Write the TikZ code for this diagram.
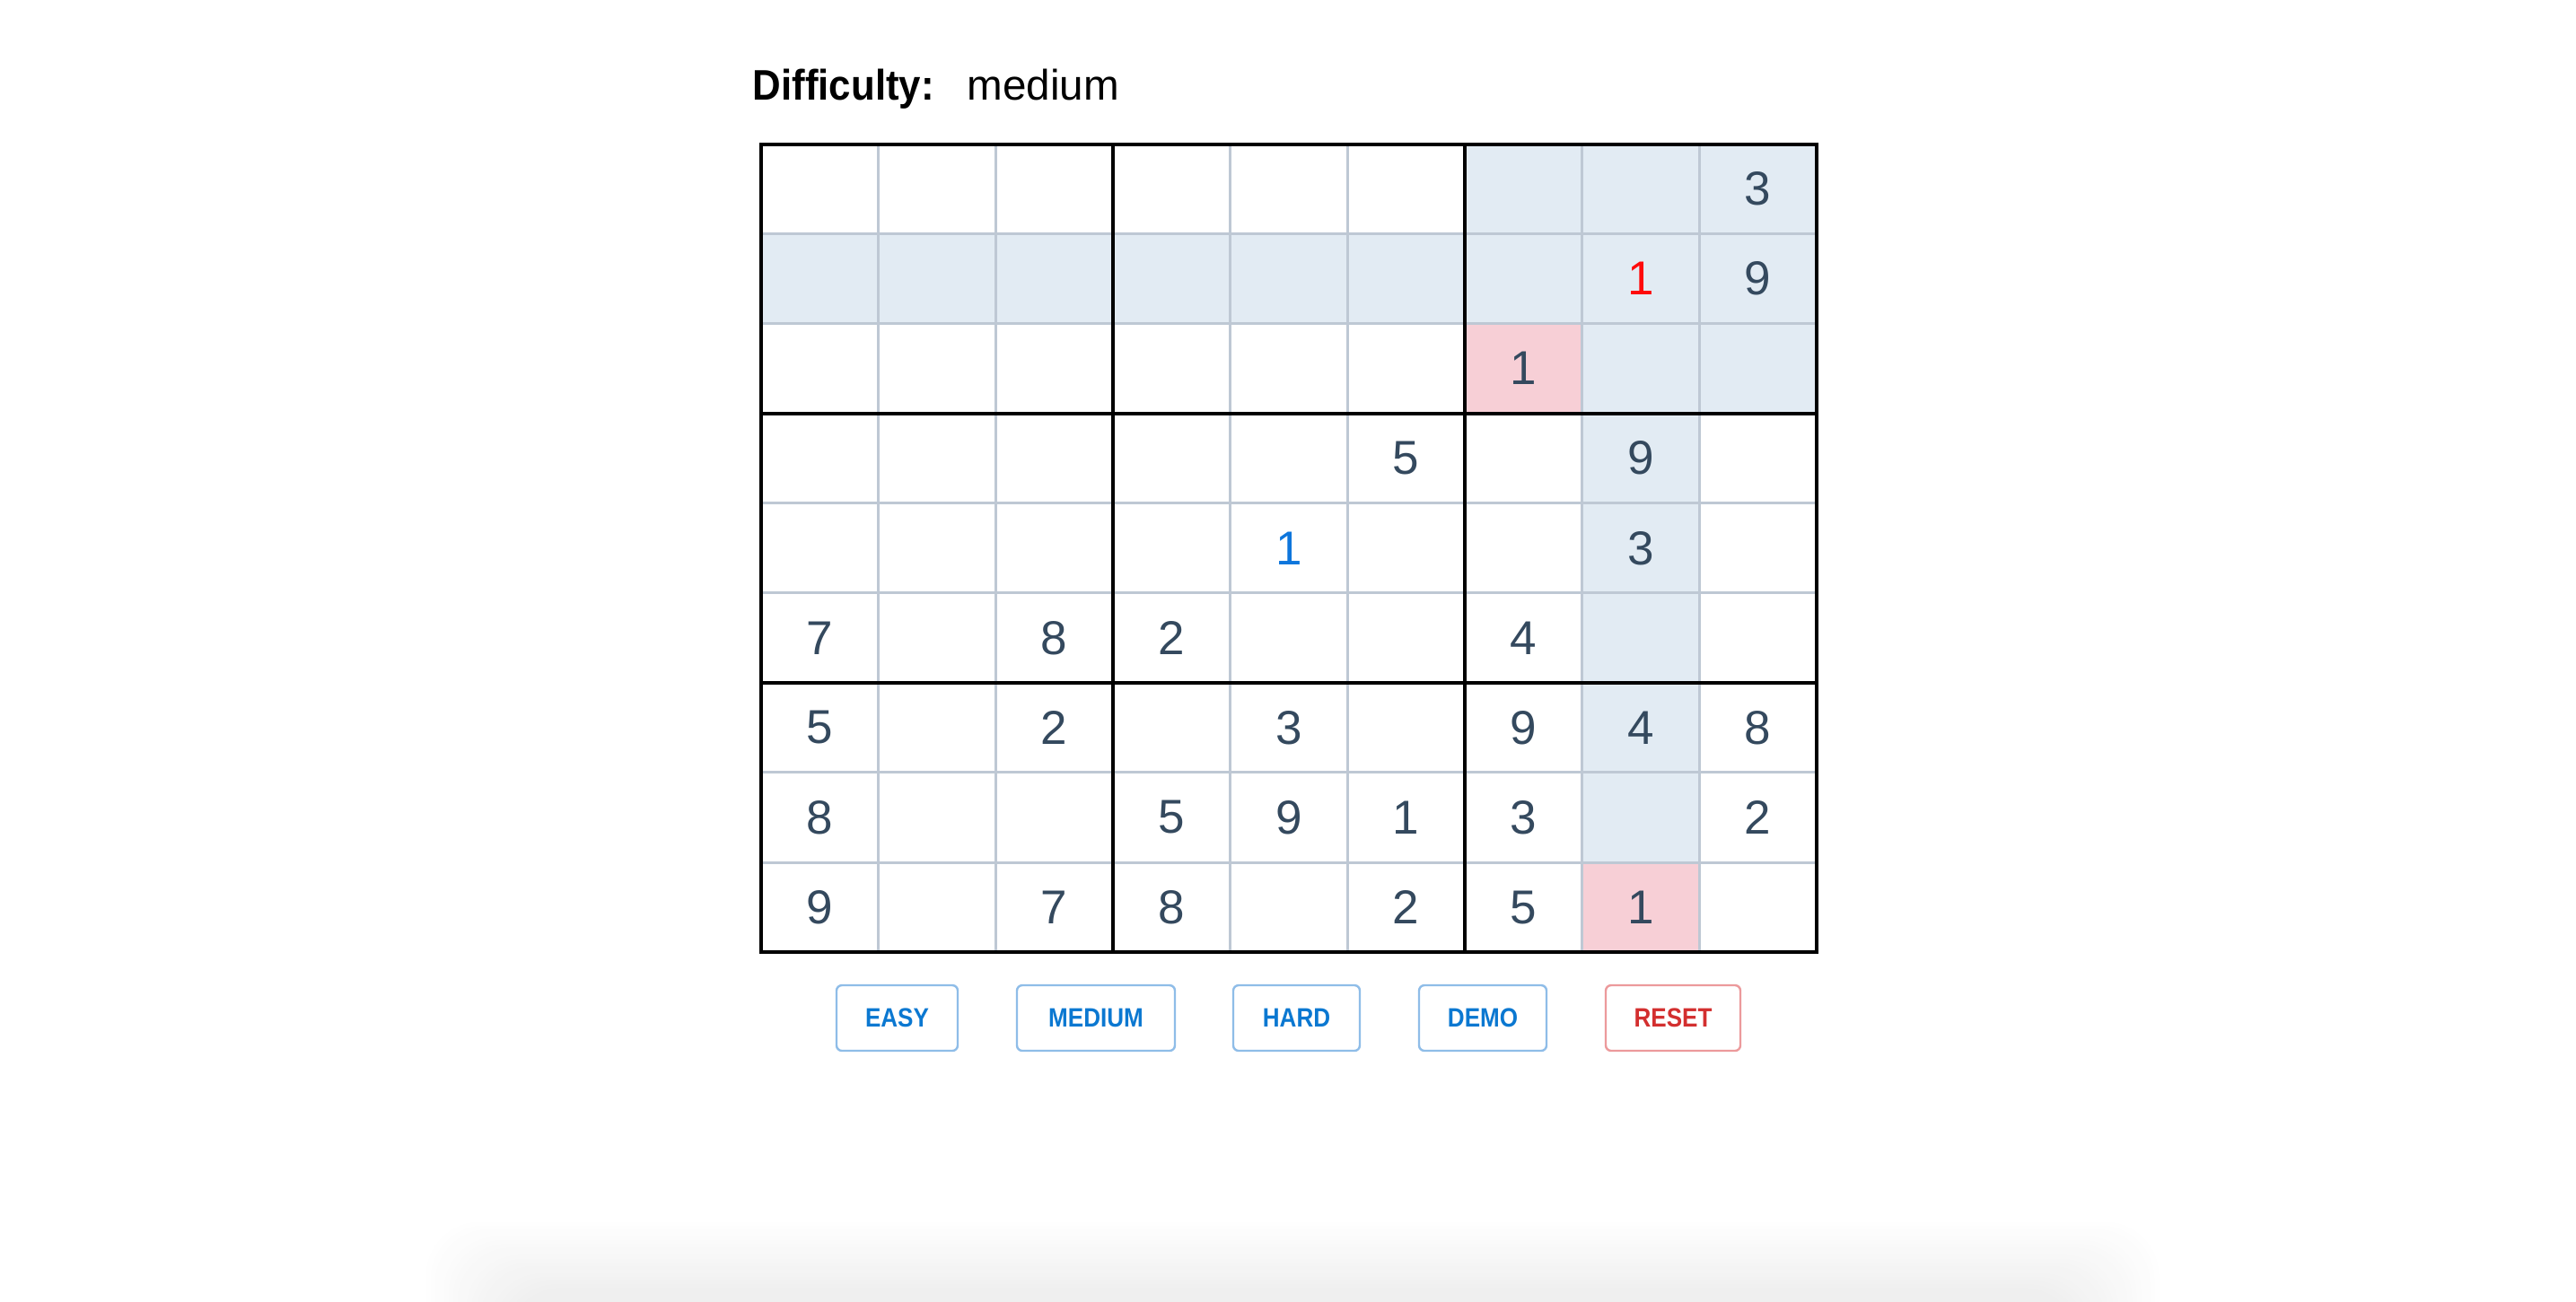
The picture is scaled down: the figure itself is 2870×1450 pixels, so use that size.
\documentclass[tikz,border=0pt]{standalone}
\usepackage{fontspec}
\setmainfont{Liberation Sans}
\newfontfamily\titlefont{Liberation Sans}[FakeStretch=0.92]
\newfontfamily\btnfont{Liberation Sans}[FakeStretch=0.88]
\definecolor{thinline}{RGB}{190,200,212}
\definecolor{hlblue}{RGB}{226,235,243}
\definecolor{hlpink}{RGB}{247,207,214}
\definecolor{digitcol}{RGB}{52,73,94}
\definecolor{userblue}{RGB}{14,118,220}
\definecolor{errred}{RGB}{255,10,10}
\definecolor{btnblue}{RGB}{11,120,209}
\definecolor{btnblueline}{RGB}{143,189,232}
\definecolor{btnred}{RGB}{211,47,47}
\definecolor{btnredline}{RGB}{236,154,156}
\tikzset{
  digit/.style={inner sep=0pt,anchor=center,text=digitcol,font=\fontsize{13.25pt}{14pt}\selectfont},
  btn/.style={draw=btnblueline,line width=0.6pt,rounded corners=1.5pt,text=btnblue,
    font=\btnfont\bfseries\fontsize{7.4pt}{8pt}\selectfont,minimum height=18.25pt,inner sep=0pt},
  btnreset/.style={btn,draw=btnredline,text=btnred},
  thinrule/.style={draw=thinline,line width=0.75pt},
  thickrule/.style={draw=black,line width=1pt,line cap=rect}
}
\newcommand{\gx}[1]{848+130.67*(#1)}
\newcommand{\gy}[1]{160.5+100.06*(#1)}
\begin{document}
\begin{tikzpicture}[x=0.25pt,y=-0.25pt]
\fill[white] (0,0) rectangle (2870,1450);
\useasboundingbox (0,0) rectangle (2870,1450);
% bottom shadow (solid nested layers, outermost first)
\begin{scope}
\clip (0,0) rectangle (2870,1450);
\foreach \i in {0,...,19}{
  \pgfmathsetmacro{\v}{1-0.064*(\i+1)/20}
  \definecolor{shadelayer}{rgb}{\v,\v,\v}
  \fill[shadelayer,rounded corners=15pt] ({475+5*\i},{1362+4.1*\i}) rectangle ({2405-5*\i},1620);
}
\end{scope}
% title
\node[anchor=base west,inner sep=0pt,font=\titlefont\bfseries\fontsize{11.9pt}{13pt}\selectfont] (lbl) at (838,111) {Difficulty:};
\node[anchor=base west,inner sep=0pt,font=\fontsize{11.9pt}{13pt}\selectfont] (val) at (1077,111) {medium};
% highlighted cells
\foreach \r/\c in {0/6,0/7,0/8,1/0,1/1,1/2,1/3,1/4,1/5,1/6,1/7,1/8,2/7,2/8,3/7,4/7,5/7,6/7,7/7}{
  \fill[hlblue] ({\gx{\c}},{\gy{\r}}) rectangle ({\gx{\c+1}},{\gy{\r+1}});
}
\foreach \r/\c in {2/6,8/7}{
  \fill[hlpink] ({\gx{\c}},{\gy{\r}}) rectangle ({\gx{\c+1}},{\gy{\r+1}});
}
% thin lines
\foreach \k in {1,2,4,5,7,8}{
  \draw[thinrule] ({\gx{\k}},{\gy{0}}) -- ({\gx{\k}},{\gy{9}});
  \draw[thinrule] ({\gx{0}},{\gy{\k}}) -- ({\gx{9}},{\gy{\k}});
}
% thick lines
\foreach \k in {0,3,6,9}{
  \draw[thickrule] ({\gx{\k}},{\gy{0}}) -- ({\gx{\k}},{\gy{9}});
  \draw[thickrule] ({\gx{0}},{\gy{\k}}) -- ({\gx{9}},{\gy{\k}});
}
% given digits
\foreach \r/\c/\d in {0/8/3,1/8/9,2/6/1,3/5/5,3/7/9,4/7/3,
  5/0/7,5/2/8,5/3/2,5/6/4,
  6/0/5,6/2/2,6/4/3,6/6/9,6/7/4,6/8/8,
  7/0/8,7/3/5,7/4/9,7/5/1,7/6/3,7/8/2,
  8/0/9,8/2/7,8/3/8,8/5/2,8/6/5,8/7/1}{
  \node[digit] (n-\r-\c) at ({\gx{\c+0.5}},{\gy{\r+0.5}}) {\d};
}
\node[digit,text=errred] (n-1-7) at ({\gx{7.5}},{\gy{1.5}}) {1};
\node[digit,text=userblue] (n-4-4) at ({\gx{4.5}},{\gy{4.5}}) {1};
% buttons
\node[btn,minimum width=33.75pt] (easy) at (999.5,1134.5) {EASY};
\node[btn,minimum width=44pt] (medium) at (1221,1134.5) {MEDIUM};
\node[btn,minimum width=35.25pt] (hard) at (1444.5,1134.5) {HARD};
\node[btn,minimum width=35.5pt] (demo) at (1652,1134.5) {DEMO};
\node[btnreset,minimum width=37.5pt] (reset) at (1864,1134.5) {RESET};
\end{tikzpicture}
\end{document}
